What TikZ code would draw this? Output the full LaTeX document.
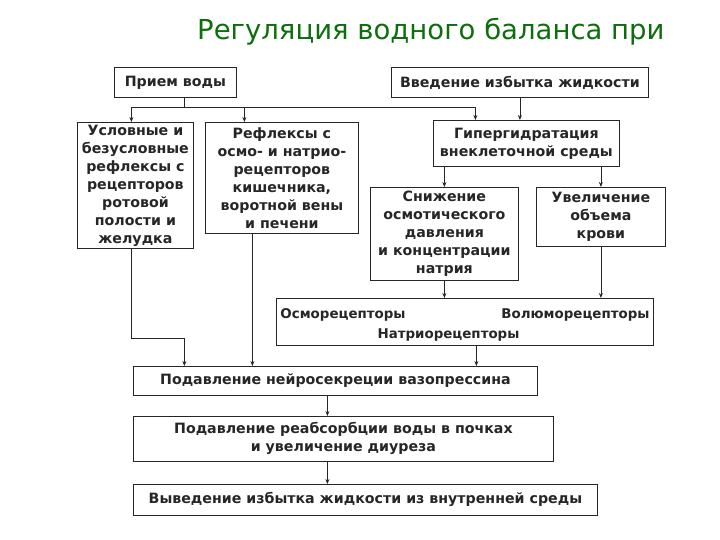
\documentclass[tikz,border=0pt]{standalone}
\usepackage{fontspec}
\setmainfont{DejaVu Sans}
\usetikzlibrary{positioning,calc,arrows.meta}
\definecolor{ttlgreen}{RGB}{14,110,14}
\definecolor{scan}{RGB}{38,38,38}
\tikzset{ttl/.style={anchor=base west, inner sep=0pt, text=ttlgreen, font=\fontsize{27.5}{32}\selectfont}}
\tikzset{dbox/.style={draw=scan, line width=0.8pt, anchor=north west, inner sep=0pt, align=center, text=scan, font=\bfseries\fontsize{14.2}{18}\selectfont}}
\tikzset{sz/.style 2 args={minimum width=#1, minimum height=#2}}
\tikzset{dlbl/.style={anchor=base, inner sep=0pt, text=scan, font=\bfseries\fontsize{13.4}{18}\selectfont}}
\tikzset{ln/.style={draw=scan, line width=0.8pt}}
\tikzset{arr/.style={ln, ->}}

\begin{document}
\begin{tikzpicture}[x=1pt, y=-1pt, >={Stealth[length=5pt,width=4pt]}]
	\useasboundingbox (0,0) rectangle (720,540);
	\node[ttl] (T) at (197,40) {Регуляция водного баланса при};
	% upper row
	\node[dbox, sz={122}{30}] (Pr) at (114,67) {Прием воды};
	\node[dbox, sz={257}{30}] (Vv) at (391,67) {Введение избытка жидкости};
	\node[dbox, sz={116}{126}] (Us) at (77,122)
		{Условные и\\безусловные\\рефлексы с\\рецепторов\\ротовой\\полости и\\желудка};
	\node[dbox, sz={153}{111}] (Rf) at (205,122)
		{Рефлексы с\\осмо- и натрио-\\рецепторов\\кишечника,\\воротной вены\\и печени};
	\node[dbox, sz={186}{46}] (Gg) at (433,120)
		{Гипергидратация\\внеклеточной среды};
	\node[dbox, sz={148}{93}] (Sn) at (370,187)
		{Снижение\\осмотического\\давления\\и концентрации\\натрия};
	\node[dbox, sz={129}{59}] (Uv) at (536,187) {Увеличение\\объема\\крови};
	% receptors
	\node[dbox, sz={377}{47}] (Os) at (276,298) {};
	\node[dlbl] (Osm) at (343,318) {Осморецепторы};
	\node[dlbl] (Vol) at (575.5,318) {Волюморецепторы};
	\node[dlbl] (Na) at (448.5,338) {Натриорецепторы};
	% lower chain
	\node[dbox, sz={404}{29}] (Nv) at (133,366) {Подавление нейросекреции вазопрессина};
	\node[dbox, sz={420}{45}] (Rb) at (133,416)
		{Подавление реабсорбции воды в почках\\и увеличение диуреза};
	\node[dbox, sz={464}{31}] (Vy) at (133,484) {Выведение избытка жидкости из внутренней среды};

	\draw[ln] ([xshift=9]Pr.south) -- ++(0,10) coordinate (f);
	\draw[arr] (f) -| ([xshift=-4]Us.north);
	\draw[arr] (f) -| ([xshift=-37.5]Rf.north);
	\draw[arr] (f) -| ([xshift=-51]Gg.north);
	\draw[arr] (Vv.south) -- (Vv.south |- Gg.north);
	\draw[arr] (Sn.north |- Gg.south) -- (Sn.north);
	\draw[arr] (Uv.north |- Gg.south) -- (Uv.north);
	\draw[arr] (Sn.south) -- (Sn.south |- Os.north);
	\draw[arr] (Uv.south) -- (Uv.south |- Os.north);
	\draw[arr] ([xshift=-4]Us.south) -- ++(0,90) -| ([xshift=-151]Nv.north);
	\draw[arr] ([xshift=-29.5]Rf.south) -- ([xshift=-29.5]Rf.south |- Nv.north);
	\draw[arr] ([xshift=11.5]Os.south) -- ([xshift=11.5]Os.south |- Nv.north);
	\draw[arr] ([xshift=-8]Nv.south) -- ([xshift=-8]Nv.south |- Rb.north);
	\draw[arr] ([xshift=-16]Rb.south) -- ([xshift=-16]Rb.south |- Vy.north);%
\end{tikzpicture}
\end{document}
